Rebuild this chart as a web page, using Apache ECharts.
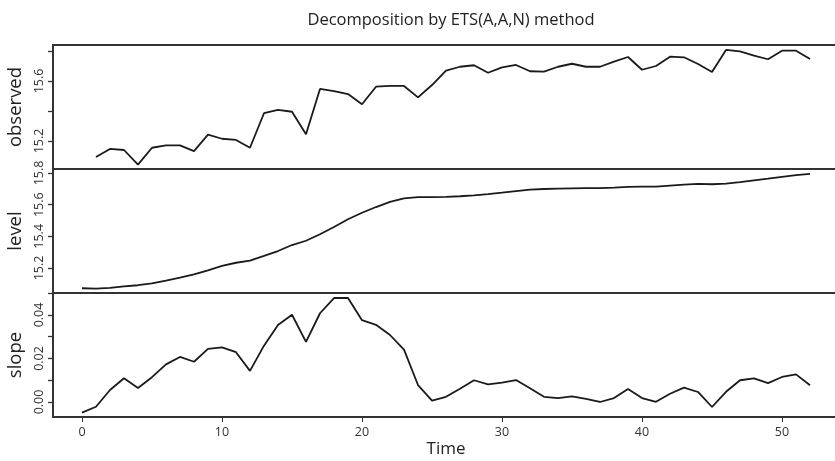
<!DOCTYPE html>
<html>
<head>
<meta charset="utf-8">
<script src="https://cdn.jsdelivr.net/npm/echarts@6/dist/echarts.min.js"></script>
<style>html,body{margin:0;padding:0;background:#fff}#c{width:835px;height:461px}</style>
</head>
<body>
<div id="c"></div>
<script>
const titleText = "Decomposition by ETS(A,A,N) method";
const panelNames = ["observed", "level", "slope"];
const xLabel = "Time";

const observedTime = [1,2,3,4,5,6,7,8,9,10,11,12,13,14,15,16,17,18,19,20,21,22,23,24,25,26,27,28,29,30,31,32,33,34,35,36,37,38,39,40,41,42,43,44,45,46,47,48,49,50,51,52];
const observed = [15.093,15.147,15.140,15.042,15.155,15.171,15.171,15.133,15.242,15.215,15.207,15.155,15.385,15.407,15.395,15.245,15.547,15.533,15.513,15.445,15.562,15.567,15.567,15.491,15.573,15.669,15.695,15.705,15.655,15.691,15.707,15.665,15.662,15.695,15.715,15.695,15.695,15.729,15.760,15.675,15.700,15.762,15.758,15.713,15.660,15.807,15.798,15.769,15.745,15.802,15.802,15.747];

const stateTime = [0,1,2,3,4,5,6,7,8,9,10,11,12,13,14,15,16,17,18,19,20,21,22,23,24,25,26,27,28,29,30,31,32,33,34,35,36,37,38,39,40,41,42,43,44,45,46,47,48,49,50,51,52];
const level = [15.072,15.069,15.074,15.084,15.091,15.103,15.120,15.139,15.160,15.185,15.213,15.233,15.246,15.276,15.307,15.345,15.372,15.413,15.459,15.508,15.549,15.585,15.617,15.640,15.647,15.647,15.649,15.653,15.659,15.667,15.676,15.686,15.695,15.699,15.701,15.703,15.705,15.705,15.707,15.712,15.714,15.714,15.720,15.726,15.731,15.729,15.733,15.743,15.754,15.764,15.775,15.786,15.794];
const slope = [-0.0049,-0.0022,0.0055,0.0109,0.0064,0.0114,0.0173,0.0207,0.0185,0.0244,0.0251,0.0229,0.0143,0.0259,0.0354,0.0401,0.0276,0.0408,0.0478,0.0478,0.0376,0.0355,0.0308,0.0241,0.0078,0.0006,0.0024,0.0061,0.0100,0.0081,0.0089,0.0101,0.0063,0.0024,0.0018,0.0026,0.0014,0.0000,0.0018,0.0060,0.0018,0.0001,0.0038,0.0066,0.0046,-0.0023,0.0047,0.0100,0.0109,0.0087,0.0115,0.0127,0.0077];

const xTicks = [0,10,20,30,40,50];
const obsTicks = [15.2,15.4,15.6,15.8];
const obsLabels = [15.2,15.6];
const levelTicks = [15.2,15.4,15.6,15.8];
const levelLabels = [15.2,15.4,15.6,15.8];
const slopeTicks = [0.00,0.01,0.02,0.03,0.04,0.05];
const slopeLabels = [0.00,0.02,0.04];

const FONT = "Open Sans";
const LINE = '#1a1a1a';
const BOX = '#333333';

const grids = [
  {left:53, top:45, width:786, height:124},
  {left:53, top:169, width:786, height:124},
  {left:53, top:293, width:786, height:124}
].map(g => Object.assign(g, {show:true, borderColor:BOX, borderWidth:2, backgroundColor:'transparent', containLabel:false, outerBoundsMode:'none'}));

function xAx(i, showLabels){
  return {
    type:'value', gridIndex:i, min:-2.07, max:54.07, position:'bottom',
    splitLine:{show:false},
    axisLine:{show:false, onZero:false},
    axisTick:{show:showLabels, customValues:xTicks, length:5, inside:false, lineStyle:{color:BOX, width:1}},
    axisLabel:{show:showLabels, customValues:xTicks, fontFamily:FONT, fontSize:12.5, color:'#333', margin:9, formatter:v=>String(v)},
    name: showLabels ? xLabel : '',
    nameLocation:'middle', nameGap:24,
    nameTextStyle:{fontFamily:FONT, fontSize:17, color:'#222'}
  };
}
function yAx(i, mn, mx, ticks, labels, name, fmt){
  return {
    type:'value', gridIndex:i, min:mn, max:mx, position:'left',
    splitLine:{show:false},
    axisLine:{show:false, onZero:false},
    axisTick:{show:true, inside:false, customValues:ticks, length:5, lineStyle:{color:BOX, width:1.3}},
    axisLabel:{show:true, customValues:labels, rotate:90, fontFamily:FONT, fontSize:12.5, color:'#333', margin:7, formatter:fmt},
    name:name, nameLocation:'middle', nameRotate:90, nameGap:28,
    nameTextStyle:{fontFamily:FONT, fontSize:18.5, color:'#222'}
  };
}

const chart = echarts.init(document.getElementById('c'), null, {renderer:'canvas'});
chart.setOption({
  animation:false,
  backgroundColor:'#fff',
  title:{text:titleText, left:446, top:7, textAlign:'center', textStyle:{fontFamily:FONT, fontSize:16.5, fontWeight:'normal', color:'#222'}},
  grid:grids,
  xAxis:[xAx(0,false), xAx(1,false), xAx(2,true)],
  yAxis:[
    yAx(0, 15.0133, 15.84, obsTicks, obsLabels, panelNames[0], v=>v.toFixed(1)),
    yAx(1, 15.0419, 15.8253, levelTicks, levelLabels, panelNames[1], v=>v.toFixed(1)),
    yAx(2, -0.0069, 0.05011, slopeTicks, slopeLabels, panelNames[2], v=>v.toFixed(2))
  ],
  series:[
    {type:'line', xAxisIndex:0, yAxisIndex:0, data:observedTime.map((t,i)=>[t,observed[i]]), showSymbol:false, lineStyle:{color:LINE, width:1.8}},
    {type:'line', xAxisIndex:1, yAxisIndex:1, data:stateTime.map((t,i)=>[t,level[i]]), showSymbol:false, lineStyle:{color:LINE, width:1.8}},
    {type:'line', xAxisIndex:2, yAxisIndex:2, data:stateTime.map((t,i)=>[t,slope[i]]), showSymbol:false, lineStyle:{color:LINE, width:1.8}}
  ]
});
</script>
</body>
</html>
